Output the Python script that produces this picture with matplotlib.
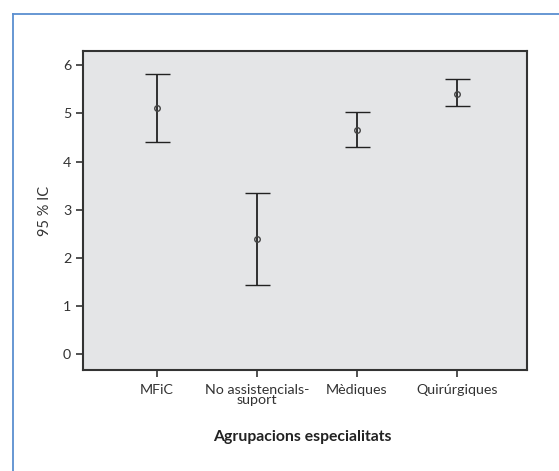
import matplotlib
matplotlib.use("Agg")
import matplotlib.pyplot as plt
from matplotlib.lines import Line2D
import numpy as np

categories = ["MFiC", "No assistencials-\nsuport", "Mèdiques", "Quirúrgiques"]
means = [5.11, 2.39, 4.65, 5.40]
lower = [4.40, 1.44, 4.30, 5.15]
upper = [5.82, 3.35, 5.03, 5.72]
yticks = [0, 1, 2, 3, 4, 5, 6]

plt.rcParams['font.family'] = ['Lato', 'DejaVu Sans']

fig = plt.figure(figsize=(5.59, 4.71), dpi=100)
ax = fig.add_axes([83/559, 1-370.3/471, (527-83)/559, (370.3-51)/471])
ax.set_facecolor("#e4e5e7")

x = np.arange(1, len(categories)+1)
m = np.array(means)
err = np.vstack([m - np.array(lower), np.array(upper) - m])
ax.errorbar(x, m, yerr=err, fmt='o', mfc='none', mec='#444444', ms=4, mew=1,
            ecolor='#222222', elinewidth=1.3, capsize=9, capthick=1.3)

ax.set_xlim(0.263, 4.703)
ax.set_ylim(-0.345, 6.30)
ax.set_yticks(yticks)
ax.set_xticks(x)
ax.set_xticklabels(categories, linespacing=0.8)
ax.tick_params(axis='both', labelsize=10.3, colors='#333333', length=5, width=1.2)
ax.tick_params(axis='x', pad=5)
for s in ax.spines.values():
    s.set_color('#333333')
    s.set_linewidth(1.5)

ax.set_ylabel("95 % IC", fontsize=10.5, color='#333333', labelpad=8)
fig.text(302/559, 1-437/471, "Agrupacions especialitats", ha='center', va='center',
         fontsize=11.3, fontweight='bold', color='#222222')

blue = '#5b8fd0'
fig.add_artist(Line2D([13/559, 13/559], [0, 1-14/471], transform=fig.transFigure, color=blue, lw=1.3))
fig.add_artist(Line2D([13/559, 1], [1-14/471, 1-14/471], transform=fig.transFigure, color=blue, lw=1.3))

fig.savefig("out.png", dpi=100)
